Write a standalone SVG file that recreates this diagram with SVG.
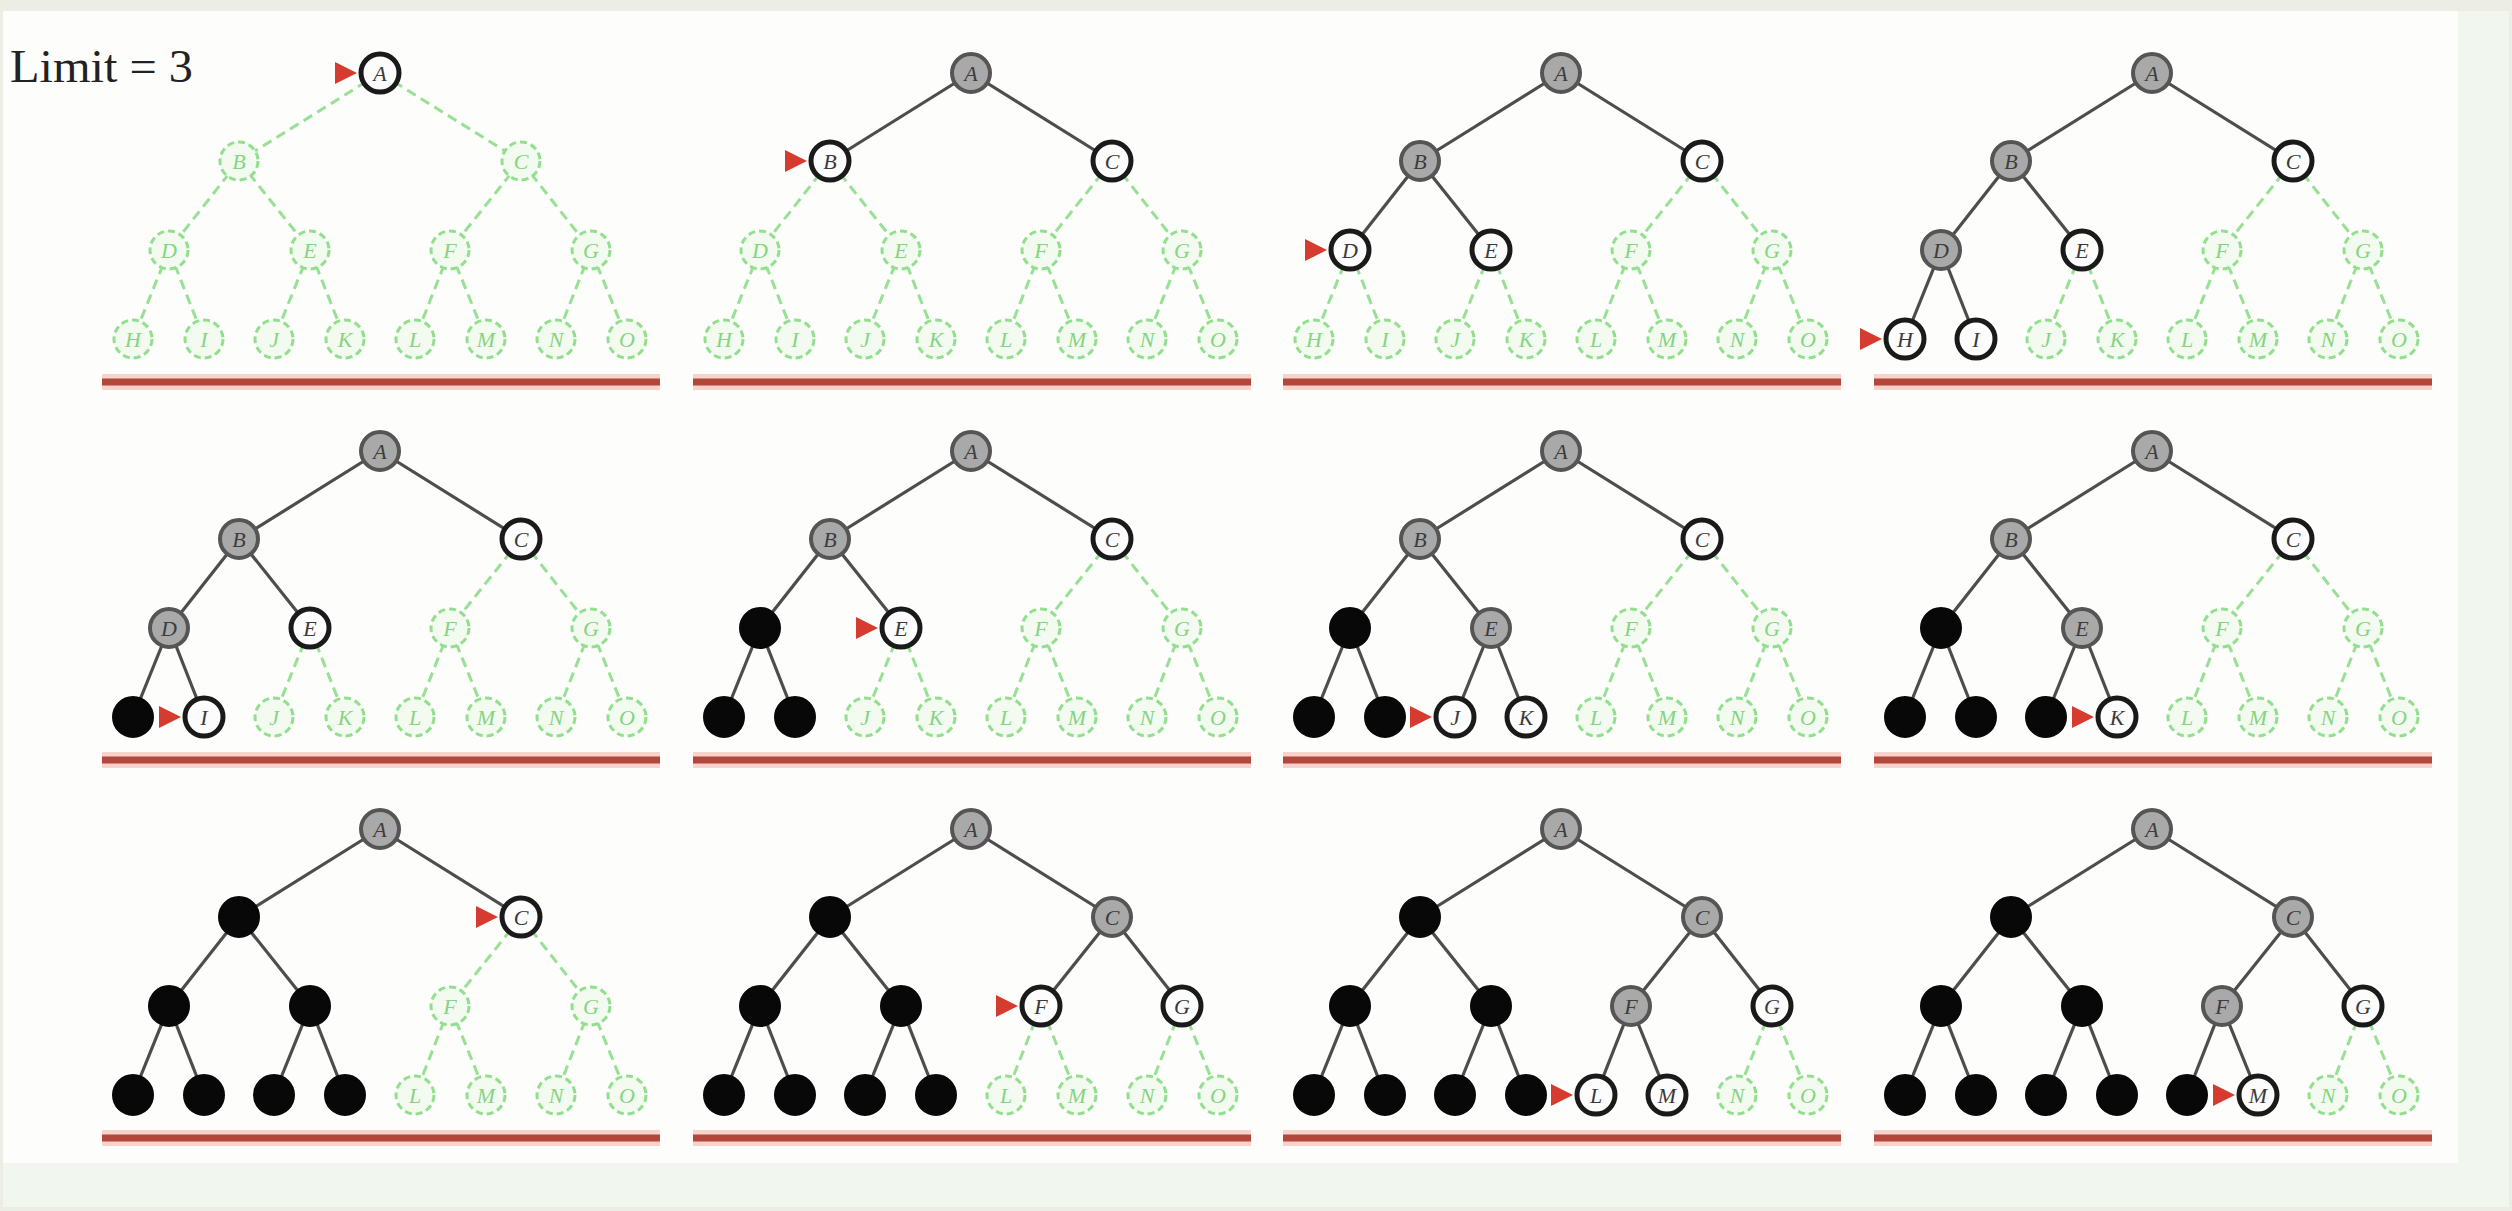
<svg xmlns="http://www.w3.org/2000/svg" width="2512" height="1211" viewBox="0 0 2512 1211">
<style>
.d{stroke:#98e094;stroke-width:3;stroke-dasharray:10 6;fill:none}
.s{stroke:#4d4d4d;stroke-width:3.2;fill:none}
.halo{stroke:#f7d3cc;stroke-width:16}
.base{stroke:#b4473b;stroke-width:7}
.n text{font-family:"Liberation Serif","Times New Roman",serif;font-style:italic;font-size:22px;text-anchor:middle}
.g circle{fill:#f3fbf1;stroke:#92df8e;stroke-width:3;stroke-dasharray:7 4}
.g text{fill:#86d482}
.f circle{fill:#fcfcfc;stroke:#1a1a1a;stroke-width:5}
.f text{fill:#3a3a3a}
.x circle{fill:#a9a9a9;stroke:#555555;stroke-width:4}
.x text{fill:#3d3d3d}
.b circle{fill:#080808;stroke:#080808;stroke-width:4}
.ptr{fill:#d63b2f}
.title{font-family:"Liberation Serif","Times New Roman",serif;font-size:46px;fill:#222222}
</style>
<rect x="0" y="0" width="2512" height="1211" fill="#ecede4"/>
<rect x="3" y="11" width="2506" height="1196" fill="#f1f7ee"/>
<rect x="3" y="11" width="2455" height="1152" fill="#fdfdfb"/>
<text class="title" x="10" y="82" textLength="183" lengthAdjust="spacingAndGlyphs">Limit = 3</text>

<!-- Panel 1 -->
<g id="p1" transform="translate(380,0)">
<g id="p1-connectors">
<line class="d" x1="0" y1="73" x2="-141" y2="161"/><line class="d" x1="0" y1="73" x2="141" y2="161"/>
<line class="d" x1="-141" y1="161" x2="-211" y2="250"/><line class="d" x1="-141" y1="161" x2="-70" y2="250"/>
<line class="d" x1="141" y1="161" x2="70" y2="250"/><line class="d" x1="141" y1="161" x2="211" y2="250"/>
<line class="d" x1="-211" y1="250" x2="-247" y2="339"/><line class="d" x1="-211" y1="250" x2="-176" y2="339"/>
<line class="d" x1="-70" y1="250" x2="-106" y2="339"/><line class="d" x1="-70" y1="250" x2="-35" y2="339"/>
<line class="d" x1="70" y1="250" x2="35" y2="339"/><line class="d" x1="70" y1="250" x2="106" y2="339"/>
<line class="d" x1="211" y1="250" x2="176" y2="339"/><line class="d" x1="211" y1="250" x2="247" y2="339"/>
</g>
<line class="halo" x1="-278" y1="382" x2="280" y2="382"/><line class="base" x1="-278" y1="382" x2="280" y2="382"/>
<g id="p1-A" class="n f"><circle cx="0" cy="73" r="19"/><text x="0" y="81">A</text></g>
<g id="p1-B" class="n g"><circle cx="-141" cy="161" r="19"/><text x="-141" y="169">B</text></g>
<g id="p1-C" class="n g"><circle cx="141" cy="161" r="19"/><text x="141" y="169">C</text></g>
<g id="p1-D" class="n g"><circle cx="-211" cy="250" r="19"/><text x="-211" y="258">D</text></g>
<g id="p1-E" class="n g"><circle cx="-70" cy="250" r="19"/><text x="-70" y="258">E</text></g>
<g id="p1-F" class="n g"><circle cx="70" cy="250" r="19"/><text x="70" y="258">F</text></g>
<g id="p1-G" class="n g"><circle cx="211" cy="250" r="19"/><text x="211" y="258">G</text></g>
<g id="p1-H" class="n g"><circle cx="-247" cy="339" r="19"/><text x="-247" y="347">H</text></g>
<g id="p1-I" class="n g"><circle cx="-176" cy="339" r="19"/><text x="-176" y="347">I</text></g>
<g id="p1-J" class="n g"><circle cx="-106" cy="339" r="19"/><text x="-106" y="347">J</text></g>
<g id="p1-K" class="n g"><circle cx="-35" cy="339" r="19"/><text x="-35" y="347">K</text></g>
<g id="p1-L" class="n g"><circle cx="35" cy="339" r="19"/><text x="35" y="347">L</text></g>
<g id="p1-M" class="n g"><circle cx="106" cy="339" r="19"/><text x="106" y="347">M</text></g>
<g id="p1-N" class="n g"><circle cx="176" cy="339" r="19"/><text x="176" y="347">N</text></g>
<g id="p1-O" class="n g"><circle cx="247" cy="339" r="19"/><text x="247" y="347">O</text></g>
<polygon class="ptr" points="-23,73 -45,62 -45,84"/>
</g>

<!-- Panel 2 -->
<g id="p2" transform="translate(971,0)">
<g id="p2-connectors">
<line class="s" x1="0" y1="73" x2="-141" y2="161"/><line class="s" x1="0" y1="73" x2="141" y2="161"/>
<line class="d" x1="-141" y1="161" x2="-211" y2="250"/><line class="d" x1="-141" y1="161" x2="-70" y2="250"/>
<line class="d" x1="141" y1="161" x2="70" y2="250"/><line class="d" x1="141" y1="161" x2="211" y2="250"/>
<line class="d" x1="-211" y1="250" x2="-247" y2="339"/><line class="d" x1="-211" y1="250" x2="-176" y2="339"/>
<line class="d" x1="-70" y1="250" x2="-106" y2="339"/><line class="d" x1="-70" y1="250" x2="-35" y2="339"/>
<line class="d" x1="70" y1="250" x2="35" y2="339"/><line class="d" x1="70" y1="250" x2="106" y2="339"/>
<line class="d" x1="211" y1="250" x2="176" y2="339"/><line class="d" x1="211" y1="250" x2="247" y2="339"/>
</g>
<line class="halo" x1="-278" y1="382" x2="280" y2="382"/><line class="base" x1="-278" y1="382" x2="280" y2="382"/>
<g id="p2-A" class="n x"><circle cx="0" cy="73" r="19"/><text x="0" y="81">A</text></g>
<g id="p2-B" class="n f"><circle cx="-141" cy="161" r="19"/><text x="-141" y="169">B</text></g>
<g id="p2-C" class="n f"><circle cx="141" cy="161" r="19"/><text x="141" y="169">C</text></g>
<g id="p2-D" class="n g"><circle cx="-211" cy="250" r="19"/><text x="-211" y="258">D</text></g>
<g id="p2-E" class="n g"><circle cx="-70" cy="250" r="19"/><text x="-70" y="258">E</text></g>
<g id="p2-F" class="n g"><circle cx="70" cy="250" r="19"/><text x="70" y="258">F</text></g>
<g id="p2-G" class="n g"><circle cx="211" cy="250" r="19"/><text x="211" y="258">G</text></g>
<g id="p2-H" class="n g"><circle cx="-247" cy="339" r="19"/><text x="-247" y="347">H</text></g>
<g id="p2-I" class="n g"><circle cx="-176" cy="339" r="19"/><text x="-176" y="347">I</text></g>
<g id="p2-J" class="n g"><circle cx="-106" cy="339" r="19"/><text x="-106" y="347">J</text></g>
<g id="p2-K" class="n g"><circle cx="-35" cy="339" r="19"/><text x="-35" y="347">K</text></g>
<g id="p2-L" class="n g"><circle cx="35" cy="339" r="19"/><text x="35" y="347">L</text></g>
<g id="p2-M" class="n g"><circle cx="106" cy="339" r="19"/><text x="106" y="347">M</text></g>
<g id="p2-N" class="n g"><circle cx="176" cy="339" r="19"/><text x="176" y="347">N</text></g>
<g id="p2-O" class="n g"><circle cx="247" cy="339" r="19"/><text x="247" y="347">O</text></g>
<polygon class="ptr" points="-164,161 -186,150 -186,172"/>
</g>

<!-- Panel 3 -->
<g id="p3" transform="translate(1561,0)">
<g id="p3-connectors">
<line class="s" x1="0" y1="73" x2="-141" y2="161"/><line class="s" x1="0" y1="73" x2="141" y2="161"/>
<line class="s" x1="-141" y1="161" x2="-211" y2="250"/><line class="s" x1="-141" y1="161" x2="-70" y2="250"/>
<line class="d" x1="141" y1="161" x2="70" y2="250"/><line class="d" x1="141" y1="161" x2="211" y2="250"/>
<line class="d" x1="-211" y1="250" x2="-247" y2="339"/><line class="d" x1="-211" y1="250" x2="-176" y2="339"/>
<line class="d" x1="-70" y1="250" x2="-106" y2="339"/><line class="d" x1="-70" y1="250" x2="-35" y2="339"/>
<line class="d" x1="70" y1="250" x2="35" y2="339"/><line class="d" x1="70" y1="250" x2="106" y2="339"/>
<line class="d" x1="211" y1="250" x2="176" y2="339"/><line class="d" x1="211" y1="250" x2="247" y2="339"/>
</g>
<line class="halo" x1="-278" y1="382" x2="280" y2="382"/><line class="base" x1="-278" y1="382" x2="280" y2="382"/>
<g id="p3-A" class="n x"><circle cx="0" cy="73" r="19"/><text x="0" y="81">A</text></g>
<g id="p3-B" class="n x"><circle cx="-141" cy="161" r="19"/><text x="-141" y="169">B</text></g>
<g id="p3-C" class="n f"><circle cx="141" cy="161" r="19"/><text x="141" y="169">C</text></g>
<g id="p3-D" class="n f"><circle cx="-211" cy="250" r="19"/><text x="-211" y="258">D</text></g>
<g id="p3-E" class="n f"><circle cx="-70" cy="250" r="19"/><text x="-70" y="258">E</text></g>
<g id="p3-F" class="n g"><circle cx="70" cy="250" r="19"/><text x="70" y="258">F</text></g>
<g id="p3-G" class="n g"><circle cx="211" cy="250" r="19"/><text x="211" y="258">G</text></g>
<g id="p3-H" class="n g"><circle cx="-247" cy="339" r="19"/><text x="-247" y="347">H</text></g>
<g id="p3-I" class="n g"><circle cx="-176" cy="339" r="19"/><text x="-176" y="347">I</text></g>
<g id="p3-J" class="n g"><circle cx="-106" cy="339" r="19"/><text x="-106" y="347">J</text></g>
<g id="p3-K" class="n g"><circle cx="-35" cy="339" r="19"/><text x="-35" y="347">K</text></g>
<g id="p3-L" class="n g"><circle cx="35" cy="339" r="19"/><text x="35" y="347">L</text></g>
<g id="p3-M" class="n g"><circle cx="106" cy="339" r="19"/><text x="106" y="347">M</text></g>
<g id="p3-N" class="n g"><circle cx="176" cy="339" r="19"/><text x="176" y="347">N</text></g>
<g id="p3-O" class="n g"><circle cx="247" cy="339" r="19"/><text x="247" y="347">O</text></g>
<polygon class="ptr" points="-234,250 -256,239 -256,261"/>
</g>

<!-- Panel 4 -->
<g id="p4" transform="translate(2152,0)">
<g id="p4-connectors">
<line class="s" x1="0" y1="73" x2="-141" y2="161"/><line class="s" x1="0" y1="73" x2="141" y2="161"/>
<line class="s" x1="-141" y1="161" x2="-211" y2="250"/><line class="s" x1="-141" y1="161" x2="-70" y2="250"/>
<line class="d" x1="141" y1="161" x2="70" y2="250"/><line class="d" x1="141" y1="161" x2="211" y2="250"/>
<line class="s" x1="-211" y1="250" x2="-247" y2="339"/><line class="s" x1="-211" y1="250" x2="-176" y2="339"/>
<line class="d" x1="-70" y1="250" x2="-106" y2="339"/><line class="d" x1="-70" y1="250" x2="-35" y2="339"/>
<line class="d" x1="70" y1="250" x2="35" y2="339"/><line class="d" x1="70" y1="250" x2="106" y2="339"/>
<line class="d" x1="211" y1="250" x2="176" y2="339"/><line class="d" x1="211" y1="250" x2="247" y2="339"/>
</g>
<line class="halo" x1="-278" y1="382" x2="280" y2="382"/><line class="base" x1="-278" y1="382" x2="280" y2="382"/>
<g id="p4-A" class="n x"><circle cx="0" cy="73" r="19"/><text x="0" y="81">A</text></g>
<g id="p4-B" class="n x"><circle cx="-141" cy="161" r="19"/><text x="-141" y="169">B</text></g>
<g id="p4-C" class="n f"><circle cx="141" cy="161" r="19"/><text x="141" y="169">C</text></g>
<g id="p4-D" class="n x"><circle cx="-211" cy="250" r="19"/><text x="-211" y="258">D</text></g>
<g id="p4-E" class="n f"><circle cx="-70" cy="250" r="19"/><text x="-70" y="258">E</text></g>
<g id="p4-F" class="n g"><circle cx="70" cy="250" r="19"/><text x="70" y="258">F</text></g>
<g id="p4-G" class="n g"><circle cx="211" cy="250" r="19"/><text x="211" y="258">G</text></g>
<g id="p4-H" class="n f"><circle cx="-247" cy="339" r="19"/><text x="-247" y="347">H</text></g>
<g id="p4-I" class="n f"><circle cx="-176" cy="339" r="19"/><text x="-176" y="347">I</text></g>
<g id="p4-J" class="n g"><circle cx="-106" cy="339" r="19"/><text x="-106" y="347">J</text></g>
<g id="p4-K" class="n g"><circle cx="-35" cy="339" r="19"/><text x="-35" y="347">K</text></g>
<g id="p4-L" class="n g"><circle cx="35" cy="339" r="19"/><text x="35" y="347">L</text></g>
<g id="p4-M" class="n g"><circle cx="106" cy="339" r="19"/><text x="106" y="347">M</text></g>
<g id="p4-N" class="n g"><circle cx="176" cy="339" r="19"/><text x="176" y="347">N</text></g>
<g id="p4-O" class="n g"><circle cx="247" cy="339" r="19"/><text x="247" y="347">O</text></g>
<polygon class="ptr" points="-270,339 -292,328 -292,350"/>
</g>

<!-- Panel 5 -->
<g id="p5" transform="translate(380,378)">
<g id="p5-connectors">
<line class="s" x1="0" y1="73" x2="-141" y2="161"/><line class="s" x1="0" y1="73" x2="141" y2="161"/>
<line class="s" x1="-141" y1="161" x2="-211" y2="250"/><line class="s" x1="-141" y1="161" x2="-70" y2="250"/>
<line class="d" x1="141" y1="161" x2="70" y2="250"/><line class="d" x1="141" y1="161" x2="211" y2="250"/>
<line class="s" x1="-211" y1="250" x2="-247" y2="339"/><line class="s" x1="-211" y1="250" x2="-176" y2="339"/>
<line class="d" x1="-70" y1="250" x2="-106" y2="339"/><line class="d" x1="-70" y1="250" x2="-35" y2="339"/>
<line class="d" x1="70" y1="250" x2="35" y2="339"/><line class="d" x1="70" y1="250" x2="106" y2="339"/>
<line class="d" x1="211" y1="250" x2="176" y2="339"/><line class="d" x1="211" y1="250" x2="247" y2="339"/>
</g>
<line class="halo" x1="-278" y1="382" x2="280" y2="382"/><line class="base" x1="-278" y1="382" x2="280" y2="382"/>
<g id="p5-A" class="n x"><circle cx="0" cy="73" r="19"/><text x="0" y="81">A</text></g>
<g id="p5-B" class="n x"><circle cx="-141" cy="161" r="19"/><text x="-141" y="169">B</text></g>
<g id="p5-C" class="n f"><circle cx="141" cy="161" r="19"/><text x="141" y="169">C</text></g>
<g id="p5-D" class="n x"><circle cx="-211" cy="250" r="19"/><text x="-211" y="258">D</text></g>
<g id="p5-E" class="n f"><circle cx="-70" cy="250" r="19"/><text x="-70" y="258">E</text></g>
<g id="p5-F" class="n g"><circle cx="70" cy="250" r="19"/><text x="70" y="258">F</text></g>
<g id="p5-G" class="n g"><circle cx="211" cy="250" r="19"/><text x="211" y="258">G</text></g>
<g id="p5-H" class="n b"><circle cx="-247" cy="339" r="19"/></g>
<g id="p5-I" class="n f"><circle cx="-176" cy="339" r="19"/><text x="-176" y="347">I</text></g>
<g id="p5-J" class="n g"><circle cx="-106" cy="339" r="19"/><text x="-106" y="347">J</text></g>
<g id="p5-K" class="n g"><circle cx="-35" cy="339" r="19"/><text x="-35" y="347">K</text></g>
<g id="p5-L" class="n g"><circle cx="35" cy="339" r="19"/><text x="35" y="347">L</text></g>
<g id="p5-M" class="n g"><circle cx="106" cy="339" r="19"/><text x="106" y="347">M</text></g>
<g id="p5-N" class="n g"><circle cx="176" cy="339" r="19"/><text x="176" y="347">N</text></g>
<g id="p5-O" class="n g"><circle cx="247" cy="339" r="19"/><text x="247" y="347">O</text></g>
<polygon class="ptr" points="-199,339 -221,328 -221,350"/>
</g>

<!-- Panel 6 -->
<g id="p6" transform="translate(971,378)">
<g id="p6-connectors">
<line class="s" x1="0" y1="73" x2="-141" y2="161"/><line class="s" x1="0" y1="73" x2="141" y2="161"/>
<line class="s" x1="-141" y1="161" x2="-211" y2="250"/><line class="s" x1="-141" y1="161" x2="-70" y2="250"/>
<line class="d" x1="141" y1="161" x2="70" y2="250"/><line class="d" x1="141" y1="161" x2="211" y2="250"/>
<line class="s" x1="-211" y1="250" x2="-247" y2="339"/><line class="s" x1="-211" y1="250" x2="-176" y2="339"/>
<line class="d" x1="-70" y1="250" x2="-106" y2="339"/><line class="d" x1="-70" y1="250" x2="-35" y2="339"/>
<line class="d" x1="70" y1="250" x2="35" y2="339"/><line class="d" x1="70" y1="250" x2="106" y2="339"/>
<line class="d" x1="211" y1="250" x2="176" y2="339"/><line class="d" x1="211" y1="250" x2="247" y2="339"/>
</g>
<line class="halo" x1="-278" y1="382" x2="280" y2="382"/><line class="base" x1="-278" y1="382" x2="280" y2="382"/>
<g id="p6-A" class="n x"><circle cx="0" cy="73" r="19"/><text x="0" y="81">A</text></g>
<g id="p6-B" class="n x"><circle cx="-141" cy="161" r="19"/><text x="-141" y="169">B</text></g>
<g id="p6-C" class="n f"><circle cx="141" cy="161" r="19"/><text x="141" y="169">C</text></g>
<g id="p6-D" class="n b"><circle cx="-211" cy="250" r="19"/></g>
<g id="p6-E" class="n f"><circle cx="-70" cy="250" r="19"/><text x="-70" y="258">E</text></g>
<g id="p6-F" class="n g"><circle cx="70" cy="250" r="19"/><text x="70" y="258">F</text></g>
<g id="p6-G" class="n g"><circle cx="211" cy="250" r="19"/><text x="211" y="258">G</text></g>
<g id="p6-H" class="n b"><circle cx="-247" cy="339" r="19"/></g>
<g id="p6-I" class="n b"><circle cx="-176" cy="339" r="19"/></g>
<g id="p6-J" class="n g"><circle cx="-106" cy="339" r="19"/><text x="-106" y="347">J</text></g>
<g id="p6-K" class="n g"><circle cx="-35" cy="339" r="19"/><text x="-35" y="347">K</text></g>
<g id="p6-L" class="n g"><circle cx="35" cy="339" r="19"/><text x="35" y="347">L</text></g>
<g id="p6-M" class="n g"><circle cx="106" cy="339" r="19"/><text x="106" y="347">M</text></g>
<g id="p6-N" class="n g"><circle cx="176" cy="339" r="19"/><text x="176" y="347">N</text></g>
<g id="p6-O" class="n g"><circle cx="247" cy="339" r="19"/><text x="247" y="347">O</text></g>
<polygon class="ptr" points="-93,250 -115,239 -115,261"/>
</g>

<!-- Panel 7 -->
<g id="p7" transform="translate(1561,378)">
<g id="p7-connectors">
<line class="s" x1="0" y1="73" x2="-141" y2="161"/><line class="s" x1="0" y1="73" x2="141" y2="161"/>
<line class="s" x1="-141" y1="161" x2="-211" y2="250"/><line class="s" x1="-141" y1="161" x2="-70" y2="250"/>
<line class="d" x1="141" y1="161" x2="70" y2="250"/><line class="d" x1="141" y1="161" x2="211" y2="250"/>
<line class="s" x1="-211" y1="250" x2="-247" y2="339"/><line class="s" x1="-211" y1="250" x2="-176" y2="339"/>
<line class="s" x1="-70" y1="250" x2="-106" y2="339"/><line class="s" x1="-70" y1="250" x2="-35" y2="339"/>
<line class="d" x1="70" y1="250" x2="35" y2="339"/><line class="d" x1="70" y1="250" x2="106" y2="339"/>
<line class="d" x1="211" y1="250" x2="176" y2="339"/><line class="d" x1="211" y1="250" x2="247" y2="339"/>
</g>
<line class="halo" x1="-278" y1="382" x2="280" y2="382"/><line class="base" x1="-278" y1="382" x2="280" y2="382"/>
<g id="p7-A" class="n x"><circle cx="0" cy="73" r="19"/><text x="0" y="81">A</text></g>
<g id="p7-B" class="n x"><circle cx="-141" cy="161" r="19"/><text x="-141" y="169">B</text></g>
<g id="p7-C" class="n f"><circle cx="141" cy="161" r="19"/><text x="141" y="169">C</text></g>
<g id="p7-D" class="n b"><circle cx="-211" cy="250" r="19"/></g>
<g id="p7-E" class="n x"><circle cx="-70" cy="250" r="19"/><text x="-70" y="258">E</text></g>
<g id="p7-F" class="n g"><circle cx="70" cy="250" r="19"/><text x="70" y="258">F</text></g>
<g id="p7-G" class="n g"><circle cx="211" cy="250" r="19"/><text x="211" y="258">G</text></g>
<g id="p7-H" class="n b"><circle cx="-247" cy="339" r="19"/></g>
<g id="p7-I" class="n b"><circle cx="-176" cy="339" r="19"/></g>
<g id="p7-J" class="n f"><circle cx="-106" cy="339" r="19"/><text x="-106" y="347">J</text></g>
<g id="p7-K" class="n f"><circle cx="-35" cy="339" r="19"/><text x="-35" y="347">K</text></g>
<g id="p7-L" class="n g"><circle cx="35" cy="339" r="19"/><text x="35" y="347">L</text></g>
<g id="p7-M" class="n g"><circle cx="106" cy="339" r="19"/><text x="106" y="347">M</text></g>
<g id="p7-N" class="n g"><circle cx="176" cy="339" r="19"/><text x="176" y="347">N</text></g>
<g id="p7-O" class="n g"><circle cx="247" cy="339" r="19"/><text x="247" y="347">O</text></g>
<polygon class="ptr" points="-129,339 -151,328 -151,350"/>
</g>

<!-- Panel 8 -->
<g id="p8" transform="translate(2152,378)">
<g id="p8-connectors">
<line class="s" x1="0" y1="73" x2="-141" y2="161"/><line class="s" x1="0" y1="73" x2="141" y2="161"/>
<line class="s" x1="-141" y1="161" x2="-211" y2="250"/><line class="s" x1="-141" y1="161" x2="-70" y2="250"/>
<line class="d" x1="141" y1="161" x2="70" y2="250"/><line class="d" x1="141" y1="161" x2="211" y2="250"/>
<line class="s" x1="-211" y1="250" x2="-247" y2="339"/><line class="s" x1="-211" y1="250" x2="-176" y2="339"/>
<line class="s" x1="-70" y1="250" x2="-106" y2="339"/><line class="s" x1="-70" y1="250" x2="-35" y2="339"/>
<line class="d" x1="70" y1="250" x2="35" y2="339"/><line class="d" x1="70" y1="250" x2="106" y2="339"/>
<line class="d" x1="211" y1="250" x2="176" y2="339"/><line class="d" x1="211" y1="250" x2="247" y2="339"/>
</g>
<line class="halo" x1="-278" y1="382" x2="280" y2="382"/><line class="base" x1="-278" y1="382" x2="280" y2="382"/>
<g id="p8-A" class="n x"><circle cx="0" cy="73" r="19"/><text x="0" y="81">A</text></g>
<g id="p8-B" class="n x"><circle cx="-141" cy="161" r="19"/><text x="-141" y="169">B</text></g>
<g id="p8-C" class="n f"><circle cx="141" cy="161" r="19"/><text x="141" y="169">C</text></g>
<g id="p8-D" class="n b"><circle cx="-211" cy="250" r="19"/></g>
<g id="p8-E" class="n x"><circle cx="-70" cy="250" r="19"/><text x="-70" y="258">E</text></g>
<g id="p8-F" class="n g"><circle cx="70" cy="250" r="19"/><text x="70" y="258">F</text></g>
<g id="p8-G" class="n g"><circle cx="211" cy="250" r="19"/><text x="211" y="258">G</text></g>
<g id="p8-H" class="n b"><circle cx="-247" cy="339" r="19"/></g>
<g id="p8-I" class="n b"><circle cx="-176" cy="339" r="19"/></g>
<g id="p8-J" class="n b"><circle cx="-106" cy="339" r="19"/></g>
<g id="p8-K" class="n f"><circle cx="-35" cy="339" r="19"/><text x="-35" y="347">K</text></g>
<g id="p8-L" class="n g"><circle cx="35" cy="339" r="19"/><text x="35" y="347">L</text></g>
<g id="p8-M" class="n g"><circle cx="106" cy="339" r="19"/><text x="106" y="347">M</text></g>
<g id="p8-N" class="n g"><circle cx="176" cy="339" r="19"/><text x="176" y="347">N</text></g>
<g id="p8-O" class="n g"><circle cx="247" cy="339" r="19"/><text x="247" y="347">O</text></g>
<polygon class="ptr" points="-58,339 -80,328 -80,350"/>
</g>

<!-- Panel 9 -->
<g id="p9" transform="translate(380,756)">
<g id="p9-connectors">
<line class="s" x1="0" y1="73" x2="-141" y2="161"/><line class="s" x1="0" y1="73" x2="141" y2="161"/>
<line class="s" x1="-141" y1="161" x2="-211" y2="250"/><line class="s" x1="-141" y1="161" x2="-70" y2="250"/>
<line class="d" x1="141" y1="161" x2="70" y2="250"/><line class="d" x1="141" y1="161" x2="211" y2="250"/>
<line class="s" x1="-211" y1="250" x2="-247" y2="339"/><line class="s" x1="-211" y1="250" x2="-176" y2="339"/>
<line class="s" x1="-70" y1="250" x2="-106" y2="339"/><line class="s" x1="-70" y1="250" x2="-35" y2="339"/>
<line class="d" x1="70" y1="250" x2="35" y2="339"/><line class="d" x1="70" y1="250" x2="106" y2="339"/>
<line class="d" x1="211" y1="250" x2="176" y2="339"/><line class="d" x1="211" y1="250" x2="247" y2="339"/>
</g>
<line class="halo" x1="-278" y1="382" x2="280" y2="382"/><line class="base" x1="-278" y1="382" x2="280" y2="382"/>
<g id="p9-A" class="n x"><circle cx="0" cy="73" r="19"/><text x="0" y="81">A</text></g>
<g id="p9-B" class="n b"><circle cx="-141" cy="161" r="19"/></g>
<g id="p9-C" class="n f"><circle cx="141" cy="161" r="19"/><text x="141" y="169">C</text></g>
<g id="p9-D" class="n b"><circle cx="-211" cy="250" r="19"/></g>
<g id="p9-E" class="n b"><circle cx="-70" cy="250" r="19"/></g>
<g id="p9-F" class="n g"><circle cx="70" cy="250" r="19"/><text x="70" y="258">F</text></g>
<g id="p9-G" class="n g"><circle cx="211" cy="250" r="19"/><text x="211" y="258">G</text></g>
<g id="p9-H" class="n b"><circle cx="-247" cy="339" r="19"/></g>
<g id="p9-I" class="n b"><circle cx="-176" cy="339" r="19"/></g>
<g id="p9-J" class="n b"><circle cx="-106" cy="339" r="19"/></g>
<g id="p9-K" class="n b"><circle cx="-35" cy="339" r="19"/></g>
<g id="p9-L" class="n g"><circle cx="35" cy="339" r="19"/><text x="35" y="347">L</text></g>
<g id="p9-M" class="n g"><circle cx="106" cy="339" r="19"/><text x="106" y="347">M</text></g>
<g id="p9-N" class="n g"><circle cx="176" cy="339" r="19"/><text x="176" y="347">N</text></g>
<g id="p9-O" class="n g"><circle cx="247" cy="339" r="19"/><text x="247" y="347">O</text></g>
<polygon class="ptr" points="118,161 96,150 96,172"/>
</g>

<!-- Panel 10 -->
<g id="p10" transform="translate(971,756)">
<g id="p10-connectors">
<line class="s" x1="0" y1="73" x2="-141" y2="161"/><line class="s" x1="0" y1="73" x2="141" y2="161"/>
<line class="s" x1="-141" y1="161" x2="-211" y2="250"/><line class="s" x1="-141" y1="161" x2="-70" y2="250"/>
<line class="s" x1="141" y1="161" x2="70" y2="250"/><line class="s" x1="141" y1="161" x2="211" y2="250"/>
<line class="s" x1="-211" y1="250" x2="-247" y2="339"/><line class="s" x1="-211" y1="250" x2="-176" y2="339"/>
<line class="s" x1="-70" y1="250" x2="-106" y2="339"/><line class="s" x1="-70" y1="250" x2="-35" y2="339"/>
<line class="d" x1="70" y1="250" x2="35" y2="339"/><line class="d" x1="70" y1="250" x2="106" y2="339"/>
<line class="d" x1="211" y1="250" x2="176" y2="339"/><line class="d" x1="211" y1="250" x2="247" y2="339"/>
</g>
<line class="halo" x1="-278" y1="382" x2="280" y2="382"/><line class="base" x1="-278" y1="382" x2="280" y2="382"/>
<g id="p10-A" class="n x"><circle cx="0" cy="73" r="19"/><text x="0" y="81">A</text></g>
<g id="p10-B" class="n b"><circle cx="-141" cy="161" r="19"/></g>
<g id="p10-C" class="n x"><circle cx="141" cy="161" r="19"/><text x="141" y="169">C</text></g>
<g id="p10-D" class="n b"><circle cx="-211" cy="250" r="19"/></g>
<g id="p10-E" class="n b"><circle cx="-70" cy="250" r="19"/></g>
<g id="p10-F" class="n f"><circle cx="70" cy="250" r="19"/><text x="70" y="258">F</text></g>
<g id="p10-G" class="n f"><circle cx="211" cy="250" r="19"/><text x="211" y="258">G</text></g>
<g id="p10-H" class="n b"><circle cx="-247" cy="339" r="19"/></g>
<g id="p10-I" class="n b"><circle cx="-176" cy="339" r="19"/></g>
<g id="p10-J" class="n b"><circle cx="-106" cy="339" r="19"/></g>
<g id="p10-K" class="n b"><circle cx="-35" cy="339" r="19"/></g>
<g id="p10-L" class="n g"><circle cx="35" cy="339" r="19"/><text x="35" y="347">L</text></g>
<g id="p10-M" class="n g"><circle cx="106" cy="339" r="19"/><text x="106" y="347">M</text></g>
<g id="p10-N" class="n g"><circle cx="176" cy="339" r="19"/><text x="176" y="347">N</text></g>
<g id="p10-O" class="n g"><circle cx="247" cy="339" r="19"/><text x="247" y="347">O</text></g>
<polygon class="ptr" points="47,250 25,239 25,261"/>
</g>

<!-- Panel 11 -->
<g id="p11" transform="translate(1561,756)">
<g id="p11-connectors">
<line class="s" x1="0" y1="73" x2="-141" y2="161"/><line class="s" x1="0" y1="73" x2="141" y2="161"/>
<line class="s" x1="-141" y1="161" x2="-211" y2="250"/><line class="s" x1="-141" y1="161" x2="-70" y2="250"/>
<line class="s" x1="141" y1="161" x2="70" y2="250"/><line class="s" x1="141" y1="161" x2="211" y2="250"/>
<line class="s" x1="-211" y1="250" x2="-247" y2="339"/><line class="s" x1="-211" y1="250" x2="-176" y2="339"/>
<line class="s" x1="-70" y1="250" x2="-106" y2="339"/><line class="s" x1="-70" y1="250" x2="-35" y2="339"/>
<line class="s" x1="70" y1="250" x2="35" y2="339"/><line class="s" x1="70" y1="250" x2="106" y2="339"/>
<line class="d" x1="211" y1="250" x2="176" y2="339"/><line class="d" x1="211" y1="250" x2="247" y2="339"/>
</g>
<line class="halo" x1="-278" y1="382" x2="280" y2="382"/><line class="base" x1="-278" y1="382" x2="280" y2="382"/>
<g id="p11-A" class="n x"><circle cx="0" cy="73" r="19"/><text x="0" y="81">A</text></g>
<g id="p11-B" class="n b"><circle cx="-141" cy="161" r="19"/></g>
<g id="p11-C" class="n x"><circle cx="141" cy="161" r="19"/><text x="141" y="169">C</text></g>
<g id="p11-D" class="n b"><circle cx="-211" cy="250" r="19"/></g>
<g id="p11-E" class="n b"><circle cx="-70" cy="250" r="19"/></g>
<g id="p11-F" class="n x"><circle cx="70" cy="250" r="19"/><text x="70" y="258">F</text></g>
<g id="p11-G" class="n f"><circle cx="211" cy="250" r="19"/><text x="211" y="258">G</text></g>
<g id="p11-H" class="n b"><circle cx="-247" cy="339" r="19"/></g>
<g id="p11-I" class="n b"><circle cx="-176" cy="339" r="19"/></g>
<g id="p11-J" class="n b"><circle cx="-106" cy="339" r="19"/></g>
<g id="p11-K" class="n b"><circle cx="-35" cy="339" r="19"/></g>
<g id="p11-L" class="n f"><circle cx="35" cy="339" r="19"/><text x="35" y="347">L</text></g>
<g id="p11-M" class="n f"><circle cx="106" cy="339" r="19"/><text x="106" y="347">M</text></g>
<g id="p11-N" class="n g"><circle cx="176" cy="339" r="19"/><text x="176" y="347">N</text></g>
<g id="p11-O" class="n g"><circle cx="247" cy="339" r="19"/><text x="247" y="347">O</text></g>
<polygon class="ptr" points="12,339 -10,328 -10,350"/>
</g>

<!-- Panel 12 -->
<g id="p12" transform="translate(2152,756)">
<g id="p12-connectors">
<line class="s" x1="0" y1="73" x2="-141" y2="161"/><line class="s" x1="0" y1="73" x2="141" y2="161"/>
<line class="s" x1="-141" y1="161" x2="-211" y2="250"/><line class="s" x1="-141" y1="161" x2="-70" y2="250"/>
<line class="s" x1="141" y1="161" x2="70" y2="250"/><line class="s" x1="141" y1="161" x2="211" y2="250"/>
<line class="s" x1="-211" y1="250" x2="-247" y2="339"/><line class="s" x1="-211" y1="250" x2="-176" y2="339"/>
<line class="s" x1="-70" y1="250" x2="-106" y2="339"/><line class="s" x1="-70" y1="250" x2="-35" y2="339"/>
<line class="s" x1="70" y1="250" x2="35" y2="339"/><line class="s" x1="70" y1="250" x2="106" y2="339"/>
<line class="d" x1="211" y1="250" x2="176" y2="339"/><line class="d" x1="211" y1="250" x2="247" y2="339"/>
</g>
<line class="halo" x1="-278" y1="382" x2="280" y2="382"/><line class="base" x1="-278" y1="382" x2="280" y2="382"/>
<g id="p12-A" class="n x"><circle cx="0" cy="73" r="19"/><text x="0" y="81">A</text></g>
<g id="p12-B" class="n b"><circle cx="-141" cy="161" r="19"/></g>
<g id="p12-C" class="n x"><circle cx="141" cy="161" r="19"/><text x="141" y="169">C</text></g>
<g id="p12-D" class="n b"><circle cx="-211" cy="250" r="19"/></g>
<g id="p12-E" class="n b"><circle cx="-70" cy="250" r="19"/></g>
<g id="p12-F" class="n x"><circle cx="70" cy="250" r="19"/><text x="70" y="258">F</text></g>
<g id="p12-G" class="n f"><circle cx="211" cy="250" r="19"/><text x="211" y="258">G</text></g>
<g id="p12-H" class="n b"><circle cx="-247" cy="339" r="19"/></g>
<g id="p12-I" class="n b"><circle cx="-176" cy="339" r="19"/></g>
<g id="p12-J" class="n b"><circle cx="-106" cy="339" r="19"/></g>
<g id="p12-K" class="n b"><circle cx="-35" cy="339" r="19"/></g>
<g id="p12-L" class="n b"><circle cx="35" cy="339" r="19"/></g>
<g id="p12-M" class="n f"><circle cx="106" cy="339" r="19"/><text x="106" y="347">M</text></g>
<g id="p12-N" class="n g"><circle cx="176" cy="339" r="19"/><text x="176" y="347">N</text></g>
<g id="p12-O" class="n g"><circle cx="247" cy="339" r="19"/><text x="247" y="347">O</text></g>
<polygon class="ptr" points="83,339 61,328 61,350"/>
</g>
</svg>
